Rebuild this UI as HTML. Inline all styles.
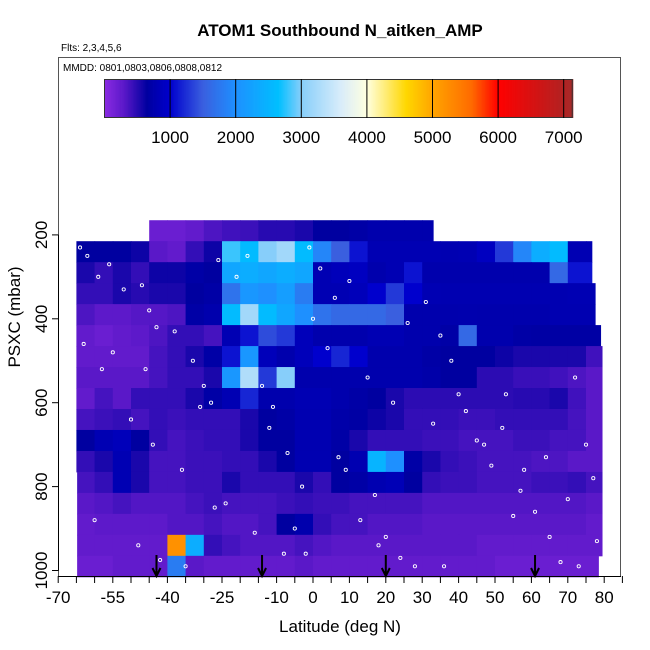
<!DOCTYPE html>
<html><head><meta charset="utf-8"><style>
html,body{margin:0;padding:0;background:#fff;}
svg{display:block;font-family:"Liberation Sans",sans-serif;}
</style></head><body>
<svg id="chart" width="650" height="650" viewBox="0 0 650 650">
<text x="340" y="36" text-anchor="middle" font-size="17" font-weight="bold">ATOM1 Southbound N_aitken_AMP</text>
<text x="61" y="51" font-size="10">Flts: 2,3,4,5,6</text>
<text x="63" y="71" font-size="10">MMDD: 0801,0803,0806,0808,0812</text>
<g id="cells"></g>
<g id="dots"></g>
<g id="arrows"></g>
<g id="cbar"></g>
<rect x="58.5" y="57.5" width="562" height="519" fill="none" stroke="#555" stroke-width="1"/>
<g id="xaxis"></g>
<g id="yaxis"></g>
<text x="340" y="632" text-anchor="middle" font-size="17">Latitude (deg N)</text>
<text transform="translate(20,317) rotate(-90)" text-anchor="middle" font-size="17">PSXC (mbar)</text>
</svg>
<script>
const colLats = [-65,-60,-55,-50,-45,-40,-35,-30,-25,-20,-15,-10,-5,0,5,10,15,20,25,30,35,40,45,50,55,60,65,70,75];
const rowPressures = [190,240,290,340,390,440,490,540,590,640,690,740,790,840,890,940,990];
const rowLatMin = [-46,-65.4,-65.4,-65.4,-65.4,-65.4,-65.4,-65.4,-65.4,-65.4,-65.4,-65.4,-64.8,-64.8,-64.8,-64.8,-64.8];
const rowLatMax = [33,76.6,76.6,77.5,77.5,79,79.4,79.4,79.4,79.4,79.4,79.4,79.4,79.4,79.4,79.4,78.4];
const gridValues = [
 [0,0,0,0,200,200,250,350,400,420,500,500,550,650,650,700,750,750,750,750,0,0,0,0,0,0,0,0,0],
 [650,650,650,600,300,250,450,600,2800,2600,3000,3200,2600,1900,1500,1100,800,800,800,800,780,800,900,1300,1900,2400,2600,800,800],
 [550,450,550,450,600,600,700,650,2300,2400,2300,2400,2300,800,850,900,750,800,1100,750,750,750,750,750,750,750,1600,1100,1100],
 [450,450,550,500,550,550,650,700,1700,2100,2000,2200,1800,800,800,850,1000,1300,1000,800,780,780,780,780,780,780,780,800,800],
 [350,280,280,320,320,350,700,750,2600,3200,2600,2300,2000,1700,1600,1600,1600,1500,750,750,750,760,750,750,750,750,780,780,780],
 [250,200,250,280,350,450,450,380,800,1100,1400,1300,850,750,750,750,800,800,750,750,700,1600,750,750,700,680,680,680,680],
 [250,250,250,250,380,450,550,700,1100,2100,850,750,850,1000,1200,1000,750,750,750,700,650,650,650,600,550,550,550,550,400],
 [300,300,300,300,380,450,450,550,2100,3300,1300,3000,750,750,750,750,750,750,750,720,650,650,480,480,430,430,400,350,300],
 [250,380,300,450,450,450,550,700,800,1200,750,750,800,800,750,700,650,550,480,480,480,480,480,480,500,500,550,400,300],
 [380,420,450,380,450,420,450,450,450,550,650,700,780,780,720,680,600,550,450,450,450,420,420,450,450,450,450,380,300],
 [650,800,850,650,450,380,420,450,450,550,650,650,780,780,700,550,450,450,450,420,420,380,380,380,420,420,380,380,300],
 [450,550,800,550,380,380,420,420,450,450,550,650,780,780,650,780,2500,2000,700,550,450,420,380,380,380,350,350,300,300],
 [380,450,800,550,380,380,420,420,550,450,450,450,550,450,650,700,780,820,650,450,420,420,380,380,380,420,420,450,380],
 [300,330,380,330,330,330,380,420,380,380,380,420,450,420,420,380,380,380,380,330,330,330,330,330,330,330,330,330,300],
 [250,280,280,280,280,330,330,380,330,330,380,650,750,450,380,380,330,330,330,300,300,300,300,300,300,300,300,300,250],
 [250,250,250,250,250,5200,2400,450,380,330,330,330,380,330,300,300,300,300,300,300,300,300,250,250,250,250,250,250,250],
 [200,200,250,250,250,1800,300,250,250,250,250,250,300,250,250,250,250,250,250,250,250,250,250,200,200,200,200,200,200]
];
const dotLats = [-64,-62,-59,-56,-52,-47,-45,-43,-38,-33,-30,-28,-26,-21,-18,-14,-11,-7,-3,-1,2,6,9,13,17,20,24,28,31,35,38,42,45,49,53,57,61,65,68,72,75,-63,-58,-50,-44,-36,-24,-5,-2,10,26,40,52,64,77,-60,-48,-42,-35,-27,-16,-8,0,4,15,22,33,47,58,70,78,-55,-46,-31,-12,7,18,36,55,73];
const dotPressures = [230,250,300,270,330,320,380,420,430,500,560,600,260,300,250,560,610,720,800,230,280,350,760,880,820,920,970,990,360,440,500,620,690,750,580,810,860,920,980,540,700,460,520,640,700,760,840,900,960,310,410,580,660,730,780,880,940,975,990,850,910,960,400,470,540,600,650,700,760,830,930,480,520,610,660,730,940,990,870,990];
const arrowLats = [-43,-14,20,61];
const cbTicks = [1000,2000,3000,4000,5000,6000,7000];
const cmapStops = [[0,"#8a2be2"],[300,"#5a18c8"],[650,"#0000a0"],[1000,"#0000cd"],[1500,"#3a5fdf"],[2000,"#1e90ff"],[2650,"#00bfff"],[3000,"#87cefa"],[3600,"#d8ecfa"],[4000,"#ffffe0"],[4600,"#ffd700"],[5000,"#ffa500"],[5600,"#ff6a00"],[6000,"#ff0000"],[7000,"#b22222"],[7150,"#a52a2a"]];
const NS="http://www.w3.org/2000/svg";
const xs = lat => 313 + lat*3.64;
const ys = p => 151 + p*0.4195;
const cbx = v => 104.5 + v*0.0656;
function hex(h){return [1,3,5].map(i=>parseInt(h.substr(i,2),16));}
function cmap(v){
  if(v<=cmapStops[0][0])return cmapStops[0][1];
  for(let i=1;i<cmapStops.length;i++){
    if(v<=cmapStops[i][0]){
      const a=cmapStops[i-1],b=cmapStops[i],t=(v-a[0])/(b[0]-a[0]);
      const c1=hex(a[1]),c2=hex(b[1]);
      return "rgb("+c1.map((c,k)=>Math.round(c+(c2[k]-c)*t)).join(",")+")";
    }
  }
  return cmapStops[cmapStops.length-1][1];
}
function mk(tag,attrs,parent){const e=document.createElementNS(NS,tag);for(const k in attrs)e.setAttribute(k,attrs[k]);parent.appendChild(e);return e;}
const gc=document.getElementById('cells');
rowPressures.forEach((p,r)=>{
  const y0=ys(p-25), y1=ys(p+25);
  colLats.forEach((lat,c)=>{
    const v=gridValues[r][c]; if(!v)return;
    const a=Math.max(lat,rowLatMin[r]), b=Math.min(lat+5,rowLatMax[r]); if(b<=a)return;
    const el=mk('rect',{x:xs(a),y:y0,width:xs(b)-xs(a)+0.5,height:y1-y0+0.5,fill:cmap(v)},gc);
    
    
  });
});
const gd=document.getElementById('dots');
dotLats.forEach((lat,i)=>{
  const el=mk('circle',{cx:xs(lat),cy:ys(dotPressures[i]),r:1.6,fill:"none",stroke:"#fff","stroke-width":0.9},gd);
  
  
});
const ga=document.getElementById('arrows');
arrowLats.forEach(lat=>{
  const x=xs(lat);
  const el=mk('path',{d:`M${x},555 L${x},575 M${x-4},568 L${x},576 L${x+4},568`,stroke:"#000","stroke-width":2,fill:"none"},ga);
  
  
});
const gb=document.getElementById('cbar');
for(let v=0; v<7130; v+=20){
  const el=mk('rect',{x:cbx(v),y:79,width:cbx(v+20)-cbx(v)+0.4,height:39,fill:cmap(v+10)},gb);
  
  
}
mk('rect',{x:104.5,y:79.5,width:cbx(7130)-104.5,height:38,fill:"none",stroke:"#333"},gb);
cbTicks.forEach(t=>{
  mk('line',{x1:cbx(t),x2:cbx(t),y1:79,y2:118,stroke:"#000","stroke-width":1},gb);
  const tx=mk('text',{x:cbx(t),y:143,"text-anchor":"middle","font-size":17},gb);
  tx.textContent=t;
  
  
});
const gx=document.getElementById('xaxis');
mk('line',{x1:58,x2:621,y1:576.5,y2:576.5,stroke:"#000"},gx);
for(let l=-70;l<=85;l+=5){mk('line',{x1:xs(l),x2:xs(l),y1:576,y2:583,stroke:"#000"},gx);}
const xTickLabels=[-70,-55,-40,-25,-10,0,10,20,30,40,50,60,70,80];
xTickLabels.forEach(l=>{
  const t=mk('text',{x:xs(l),y:603,"text-anchor":"middle","font-size":17},gx);
  t.textContent=l;
  
  
});
const gy=document.getElementById('yaxis');
mk('line',{x1:58.5,x2:58.5,y1:ys(200),y2:ys(1000),stroke:"#000"},gy);
const yTickLabels=[200,400,600,800,1000];
yTickLabels.forEach(p=>{
  mk('line',{x1:52,x2:58.5,y1:ys(p),y2:ys(p),stroke:"#000"},gy);
  const t=mk('text',{transform:`translate(47,${ys(p)}) rotate(-90)`,"text-anchor":"middle","font-size":17},gy);
  t.textContent=p;
  
  
});
</script>
</body></html>
